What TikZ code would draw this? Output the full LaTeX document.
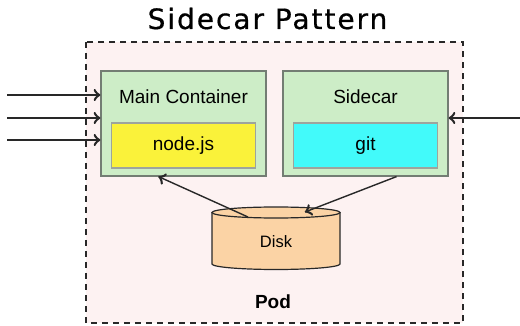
\documentclass[tikz,border=0pt]{standalone}
\usepackage{fontspec}
\setmainfont{Liberation Sans}
\newfontfamily\titlefont[LetterSpace=7,FakeBold=0.6]{DejaVu Sans}
\usetikzlibrary{arrows}
\usetikzlibrary{decorations.markings}
\usetikzlibrary{positioning}
\tikzset{->/.style = {decoration={markings,
                                  mark=at position 1 with {\arrow[scale=1.8]{to}}},
                      postaction={decorate}}}
\tikzset{cbox/.style = {draw=cedge, fill=cgreen, line width=1.2, minimum width=165, minimum height=105, inner sep=0}}
\tikzset{ibox/.style = {draw=cedge!70, line width=1.2, minimum width=144, minimum height=45, inner sep=0}}
\tikzset{conn/.style = {line width=1.4, draw=cline}}
\definecolor{cpod}{RGB}{253,242,242}
\definecolor{cgreen}{RGB}{205,237,199}
\definecolor{cedge}{RGB}{115,125,115}
\definecolor{cyell}{RGB}{250,242,58}
\definecolor{ccyan}{RGB}{66,250,250}
\definecolor{cdisk}{RGB}{251,211,165}
\definecolor{cline}{RGB}{40,40,40}

\begin{document}
\begin{tikzpicture}[x=1pt, y=-1pt]
      \useasboundingbox (0, 0) rectangle (520, 326);
      \node [anchor=base] (title) at (267.5, 29) {\fontsize{28}{32}\selectfont\titlefont Sidecar Pattern};
      \draw [cline, line width=1.4, dash pattern=on 6 off 5, fill=cpod] (86, 42) rectangle (463, 323);
      \node [font=\bfseries\fontsize{19}{22}\selectfont] (pod) at (273, 302) {Pod};

      \node [cbox] (main) at (183.5, 123.5) {};
      \node [cbox] (side) at (365.5, 123.5) {};
      \node [font=\fontsize{19}{22}\selectfont] (maintxt) at (183.5, 97) {Main Container};
      \node [font=\fontsize{19}{22}\selectfont] (sidetxt) at (365.5, 97) {Sidecar};
      \node [ibox, fill=cyell, font=\fontsize{19}{22}\selectfont] (nodejs) at (183.5, 145.5) {node.js};
      \node [ibox, fill=ccyan, font=\fontsize{19}{22}\selectfont] (git) at (365.5, 145.5) {git};

      \draw [cline, line width=1.2, fill=cdisk] (212, 212.5) -- (212, 264)
            arc [start angle=180, end angle=0, x radius=64, y radius=5.5] -- (340, 212.5);
      \draw [cline, line width=1.2, fill=cdisk] (276, 212.5) ellipse [x radius=64, y radius=5.5];
      \node [font=\fontsize{16.5}{20}\selectfont] (disk) at (276, 242) {Disk};

      \coordinate (in1) at (7, 95);
      \coordinate (in2) at (7, 118);
      \coordinate (in3) at (7, 140);
      \coordinate (out) at (520, 118);
      \coordinate (dtop1) at (248, 217);
      \coordinate (dtop2) at (305, 212);

      \draw [conn, ->] (in1) -- (in1 -| main.west);
      \draw [conn, ->] (in2) -- (in2 -| main.west);
      \draw [conn, ->] (in3) -- (in3 -| main.west);
      \draw [conn, ->] (out) -- (out -| side.east);
      \draw [conn, ->] (dtop1) -- ([xshift=-25]main.south);
      \draw [conn, ->] ([xshift=31]side.south) -- (dtop2);
    \end{tikzpicture}
\end{document}
